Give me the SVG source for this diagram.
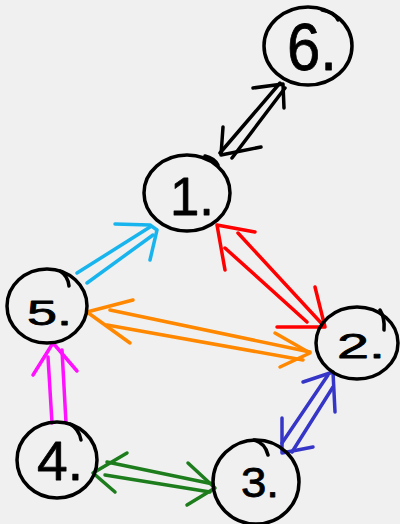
<svg xmlns="http://www.w3.org/2000/svg" width="400" height="524" viewBox="0 0 400 524">
  <style>
    .node ellipse, .node path { fill: none; stroke: #000; stroke-width: 3.5; stroke-linecap: round; stroke-linejoin: round; }
    .node text { font-family: "Liberation Sans", "DejaVu Sans", sans-serif; fill: #000; stroke: #000; stroke-width: 0.8; stroke-linejoin: round; }
    .edge path { fill: none; stroke-width: 3.5; stroke-linecap: round; stroke-linejoin: round; }
    .k path { stroke: #000; }
    .r path { stroke: #ff0000; }
    .c path { stroke: #18b4ee; }
    .o path { stroke: #ff8800; }
    .m path { stroke: #ff10ff; }
    .g path { stroke: #1d7d1d; }
    .b path { stroke: #3535c8; }
  </style>
  <rect width="400" height="524" fill="#f0f0f0"/>

  <!-- connectors: each is a pair of strokes with an arrowhead at each end that has one -->
  <g id="connectors">
    <g id="e6-1" class="edge k">
      <path d="M220,153 L280,83 M232,158 L285,88"/>
      <path d="M253,88 L283,84 L284,108"/>
      <path d="M223,127 L221,155 L261,147"/>
    </g>
    <g id="e1-2" class="edge r">
      <path d="M238,233 L323,325 M225,248 L307,322"/>
      <path d="M255,232 L217,225 L225,270"/>
      <path d="M315,287 L325,327 L277,327"/>
    </g>
    <g id="e5-1" class="edge c">
      <path d="M77,273 L150,227 M87,283 L153,235"/>
      <path d="M115,224 L150,225 L157,230 L150,260"/>
    </g>
    <g id="e5-2" class="edge o">
      <path d="M110,310 L310,352 M107,325 L303,360"/>
      <path d="M133,300 L87,312 L130,343"/>
      <path d="M275,333 L310,353 L280,367"/>
    </g>
    <g id="e4-5" class="edge m">
      <path d="M52,423 L48,357 M66,423 L62,350"/>
      <path d="M33,375 L53,343 L77,371"/>
    </g>
    <g id="e4-3" class="edge g">
      <path d="M107,462 L213,484 M105,475 L210,492"/>
      <path d="M127,453 L93,473 L115,492"/>
      <path d="M188,463 L215,488 L187,505"/>
    </g>
    <g id="e2-3" class="edge b">
      <path d="M282,443 L328,375 M292,452 L333,387"/>
      <path d="M303,382 L333,372 L335,412"/>
      <path d="M282,418 L282,453 L313,447"/>
    </g>
  </g>

  <!-- nodes -->
  <g id="node6" class="node">
    <ellipse cx="308" cy="46" rx="44" ry="39"/>
    <path d="M322,10 Q334,12 338,20"/>
    <text x="287" y="70" font-size="67" textLength="50" lengthAdjust="spacingAndGlyphs" stroke-width="0">6.</text>
  </g>
  <g id="node1" class="node">
    <ellipse cx="187" cy="193" rx="43" ry="38"/>
    <path d="M205,156 Q214,158 218,165"/>
    <text x="170" y="215" font-size="53" textLength="44" lengthAdjust="spacingAndGlyphs" stroke-width="0.4">1.</text>
  </g>
  <g id="node5" class="node">
    <ellipse cx="47" cy="306" rx="40" ry="37"/>
    <path d="M60,271 Q68,276 69,286"/>
    <text x="27" y="325" font-size="35" textLength="45" lengthAdjust="spacingAndGlyphs">5.</text>
  </g>
  <g id="node4" class="node">
    <ellipse cx="57" cy="460" rx="40" ry="38"/>
    <path d="M70,424 Q79,429 81,440"/>
    <text x="37" y="480" font-size="56" textLength="46" lengthAdjust="spacingAndGlyphs" stroke-width="0.3">4.</text>
  </g>
  <g id="node2" class="node">
    <ellipse cx="357" cy="343" rx="41" ry="36"/>
    <path d="M380,310 Q385,318 384,330"/>
    <text x="337" y="358" font-size="35" textLength="48" lengthAdjust="spacingAndGlyphs">2.</text>
  </g>
  <g id="node3" class="node">
    <ellipse cx="256" cy="482" rx="43" ry="42"/>
    <path d="M254,440 Q265,443 268,455"/>
    <text x="241" y="497" font-size="42" textLength="38" lengthAdjust="spacingAndGlyphs">3.</text>
  </g>
</svg>
